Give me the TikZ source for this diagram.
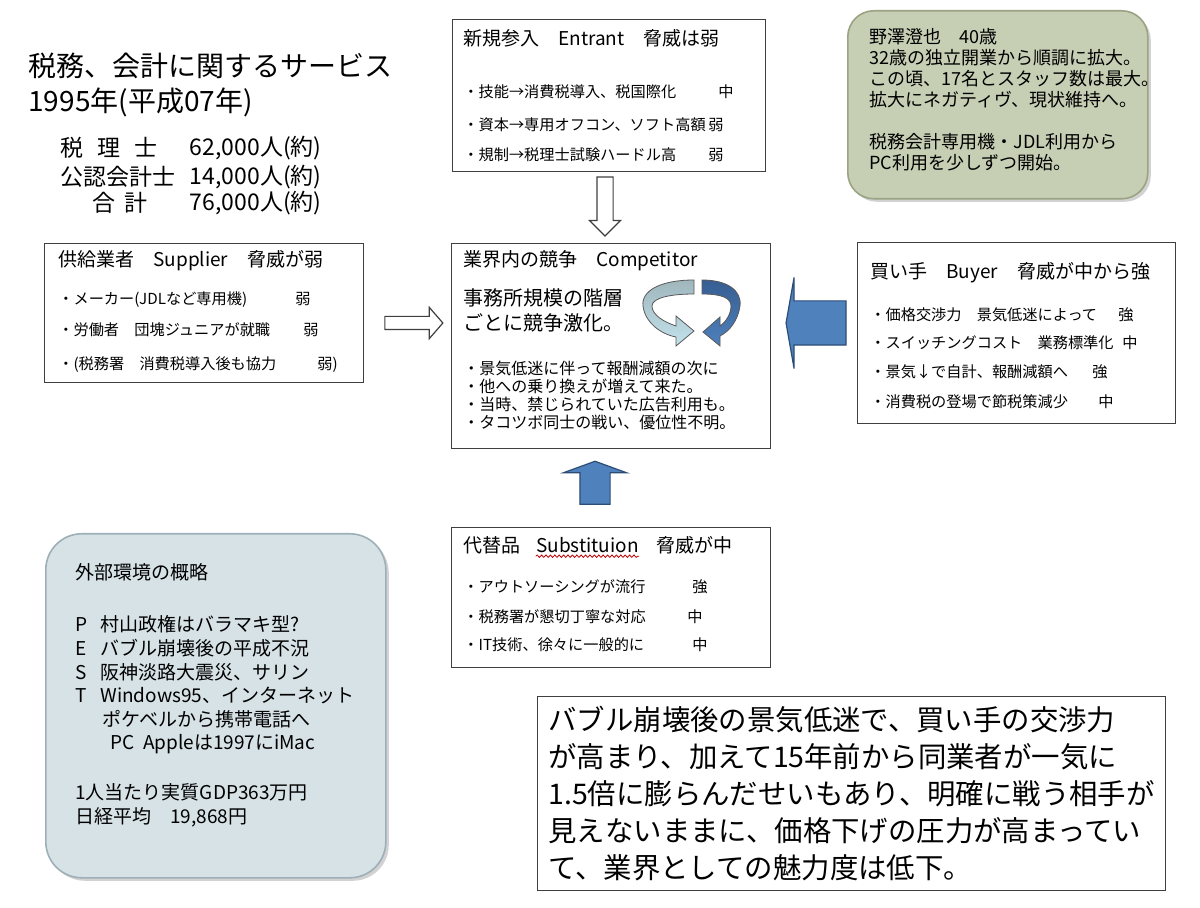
\documentclass[tikz,border=0pt]{standalone}
\usepackage{fontspec}
\setmainfont{Noto Sans CJK JP}
\usepackage{tikz}
\usetikzlibrary{positioning,shapes.arrows,shadows,decorations.pathmorphing}

\newcommand{\setfs}[2]{\fontsize{#1}{#2}\selectfont}
\definecolor{boxline}{HTML}{3F3F3F}
\definecolor{sagefill}{HTML}{C6CEB4}
\definecolor{sageline}{HTML}{9AA383}
\definecolor{mistfill}{HTML}{D7E2E6}
\definecolor{mistline}{HTML}{9DB0B8}
\definecolor{arrowblue}{HTML}{4F81BD}
\definecolor{arrowedge}{HTML}{2C4D75}
\definecolor{cycleteal}{HTML}{9FB6BC}
\definecolor{cyclelight}{HTML}{C3E2EC}
\definecolor{cycledark}{HTML}{365E92}

\begin{document}
\begin{tikzpicture}[x=0.5pt,y=-0.5pt,
    forcebox/.style={rectangle,draw=boxline,line width=0.6pt,anchor=north west,inner sep=0pt},
    heading/.style={anchor=west,inner sep=0pt,font=\setfs{9.5}{11}},
    itemline/.style={anchor=west,inner sep=0pt,font=\setfs{7.6}{9}},
    textblock/.style={anchor=north west,inner sep=0pt,align=left},
    hollowarrow/.style={single arrow,draw=boxline,fill=white,line width=0.6pt},
    bluearrow/.style={single arrow,draw=arrowedge,fill=arrowblue,line width=0.6pt},
    sagepanel/.style={rectangle,anchor=north west,inner sep=0pt,draw=sageline,fill=sagefill,line width=0.8pt,
      rounded corners=13pt,drop shadow={opacity=0.35,shadow xshift=1.5pt,shadow yshift=-1.5pt}},
    mistpanel/.style={rectangle,anchor=north west,inner sep=0pt,draw=mistline,fill=mistfill,line width=0.8pt,
      rounded corners=18pt,drop shadow={opacity=0.35,shadow xshift=1.5pt,shadow yshift=-1.5pt}},
    spellwave/.style={draw=red!75!black,line width=0.4pt,decorate,decoration={snake,amplitude=0.6pt,segment length=2.2pt}},
    cycleedge/.style={draw=black!65,line width=0.4pt}]
  \fill[white] (0,0) rectangle (1200,908);
  \useasboundingbox (0,0) rectangle (1200,908);

  \node[textblock,font=\setfs{14}{17.5}] (title) at (28,53) {税務、会計に関するサービス\\1995年(平成07年)};
  \node[anchor=west,inner sep=0pt,font=\setfs{11.5}{13}] (zeirishi) at (60,148) {\makebox[48.5pt][s]{税\hfill 理\hfill 士}};
  \node[anchor=west,inner sep=0pt,font=\setfs{11.5}{13}] (kaikeishi) at (60,177) {公認会計士};
  \node[anchor=west,inner sep=0pt,font=\setfs{11.5}{13}] (goukei) at (92,203) {\makebox[27.5pt][s]{合\hfill 計}};
  \node[anchor=east,inner sep=0pt,font=\setfs{11.5}{13}] (zeirishinum) at (322,148) {62,000人(約)};
  \node[anchor=east,inner sep=0pt,font=\setfs{11.5}{13}] (kaikeishinum) at (322,177) {14,000人(約)};
  \node[anchor=east,inner sep=0pt,font=\setfs{11.5}{13}] (goukeinum) at (322,203) {76,000人(約)};

  \node[forcebox,minimum width=156.5pt,minimum height=76pt] (entrant) at (452,19) {};
  \node[heading] (entranthead) at (463,38) {新規参入\quad Entrant\quad 脅威は弱};
  \node[itemline] (entrant1) at (463,92) {\makebox[127.5pt][l]{・技能→消費税導入、税国際化}中};
  \node[itemline] (entrant2) at (463,125) {\makebox[122.5pt][l]{・資本→専用オフコン、ソフト高額}弱};
  \node[itemline] (entrant3) at (463,155) {\makebox[122.5pt][l]{・規制→税理士試験ハードル高}弱};

  \node[sagepanel,minimum width=150pt,minimum height=94pt] (profile) at (847,10) {};
  \node[textblock,font=\setfs{9}{10.5}] (profiletext) at (869,28) {野澤澄也\quad 40歳\\32歳の独立開業から順調に拡大。\\この頃、17名とスタッフ数は最大。\\拡大にネガティヴ、現状維持へ。\\[10.5pt]税務会計専用機・JDL利用から\\PC利用を少しずつ開始。};

  \node[forcebox,minimum width=159.5pt,minimum height=69.5pt] (supplier) at (44,243) {};
  \node[heading] (supplierhead) at (58,261) {供給業者\quad Supplier\quad 脅威が弱};
  \node[itemline] (supplier1) at (58,300) {\makebox[118.5pt][l]{・メーカー(JDLなど専用機)}弱};
  \node[itemline] (supplier2) at (58,330) {\makebox[122.5pt][l]{・労働者\quad 団塊ジュニアが就職}弱};
  \node[itemline] (supplier3) at (58,365) {\makebox[129.5pt][l]{・(税務署\quad 消費税導入後も協力}弱)};

  \node[forcebox,minimum width=159.5pt,minimum height=102.5pt] (competitor) at (451,243) {};
  \node[heading] (competitorhead) at (463,261) {業界内の競争\quad Competitor};
  \node[textblock,font=\setfs{10}{12.5}] (competitorlead) at (463,288) {事務所規模の階層\\ごとに競争激化。};
  \node[textblock,font=\setfs{8}{9}] (competitoritems) at (463,361) {・景気低迷に伴って報酬減額の次に\\・他への乗り換えが増えて来た。\\・当時、禁じられていた広告利用も。\\・タコツボ同士の戦い、優位性不明。};
  \draw[cycleedge,top color=cycleteal,bottom color=cyclelight] (694,280) .. controls (660,280) and (641,291) .. (643,306)
    .. controls (645,322) and (660,334) .. (676,337) -- (676,346) -- (694,331) -- (676,316) -- (676,326)
    .. controls (664,322) and (652,315) .. (652,306) .. controls (652,298) and (670,294) .. (694,294) -- cycle;
  \draw[cycleedge,top color=cycledark,bottom color=arrowblue] (702,280) .. controls (728,280) and (742,291) .. (740,306)
    .. controls (738,320) and (730,331) .. (720,336) -- (720,346) -- (703,332) -- (720,317) -- (720,326)
    .. controls (727,321) and (731,313) .. (731,306) .. controls (731,298) and (722,294) .. (702,294) -- cycle;

  \node[forcebox,minimum width=159pt,minimum height=90.5pt] (buyer) at (857,242) {};
  \node[heading] (buyerhead) at (870,273) {買い手\quad Buyer\quad 脅威が中から強};
  \node[itemline] (buyer1) at (870,315) {\makebox[124pt][l]{・価格交渉力\quad 景気低迷によって}強};
  \node[itemline] (buyer2) at (870,343) {\makebox[126pt][l]{・スイッチングコスト\quad 業務標準化}中};
  \node[itemline] (buyer3) at (870,372) {\makebox[111pt][l]{・景気↓で自計、報酬減額へ}強};
  \node[itemline] (buyer4) at (870,402) {\makebox[114pt][l]{・消費税の登場で節税策減少}中};

  \node[forcebox,minimum width=159.5pt,minimum height=70pt] (substitute) at (451,527) {};
  \node[heading] (substitutehead) at (463,545) {代替品};
  \node[heading,base right=7.5pt of substitutehead] (substituteword) {Substituion};
  \node[heading,base right=8.5pt of substituteword] (substitutethreat) {脅威が中};
  \draw[spellwave] ([yshift=-2pt]substituteword.base west) -- ([yshift=-2pt]substituteword.base east);
  \node[itemline] (substitute1) at (463,587) {\makebox[114.5pt][l]{・アウトソーシングが流行}強};
  \node[itemline] (substitute2) at (463,617) {\makebox[112pt][l]{・税務署が懇切丁寧な対応}中};
  \node[itemline] (substitute3) at (463,645) {\makebox[114.5pt][l]{・IT技術、徐々に一般的に}中};

  \node[hollowarrow,shape border rotate=270,minimum height=29.5pt,inner xsep=3.75pt,inner ysep=0pt,
    single arrow head extend=3.75pt,single arrow tip angle=90] (entrantarrow) at (605,202.5) {};
  \node[hollowarrow,minimum height=29pt,inner xsep=0pt,inner ysep=3pt,
    single arrow head extend=4.5pt,single arrow tip angle=98] (supplierarrow) at (411,323) {};
  \node[bluearrow,shape border rotate=180,minimum height=30pt,inner xsep=0pt,inner ysep=10.75pt,
    single arrow head extend=11.75pt,single arrow tip angle=160] (buyerarrow) at (818,323) {};
  \node[bluearrow,shape border rotate=90,minimum height=21.5pt,inner xsep=7.25pt,inner ysep=0pt,
    single arrow head extend=8.25pt,single arrow tip angle=140] (substitutearrow) at (595,485.5) {};

  \node[mistpanel,minimum width=170pt,minimum height=172pt] (pest) at (45,533) {};
  \node[anchor=west,inner sep=0pt,font=\setfs{9.5}{11}] (pesthead) at (75,572) {外部環境の概略};
  \node[textblock,font=\setfs{9.5}{11.8}] (pestbody) at (75,615.5) {\makebox[12.5pt][l]{P}村山政権はバラマキ型?\\
    \makebox[12.5pt][l]{E}バブル崩壊後の平成不況\\
    \makebox[12.5pt][l]{S}阪神淡路大震災、サリン\\
    \makebox[12.5pt][l]{T}Windows95、インターネット\\
    \hspace*{13.5pt}ポケベルから携帯電話へ\\
    \hspace*{17.5pt}PC\ \ Appleは1997にiMac};
  \node[textblock,font=\setfs{9.5}{12}] (pestecon) at (75,783.5) {1人当たり実質GDP363万円\\日経平均\quad 19,868円};

  \node[forcebox,minimum width=314pt,minimum height=97pt] (summary) at (537,696) {};
  \node[textblock,font=\setfs{14.2}{18.5}] (summarytext) at (548,706) {バブル崩壊後の景気低迷で、買い手の交渉力\\が高まり、加えて15年前から同業者が一気に\\1.5倍に膨らんだせいもあり、明確に戦う相手が\\見えないままに、価格下げの圧力が高まってい\\て、業界としての魅力度は低下。};
\end{tikzpicture}
\end{document}
